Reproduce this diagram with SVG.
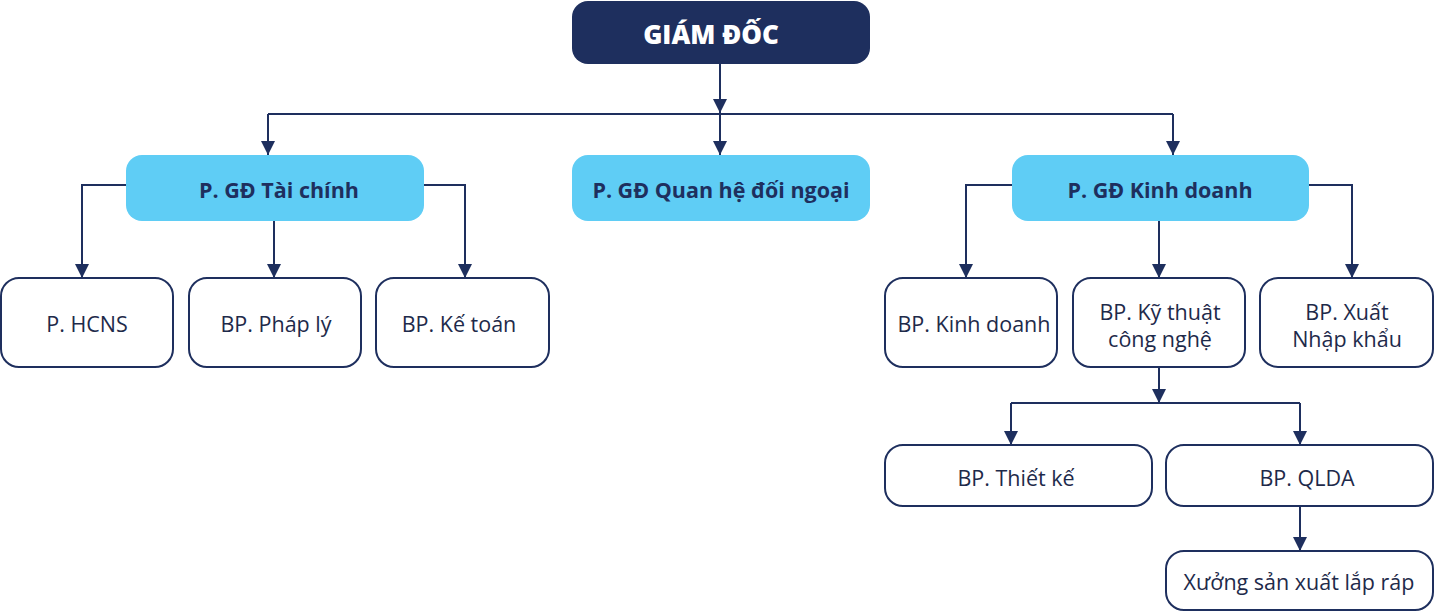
<svg xmlns="http://www.w3.org/2000/svg" width="1434" height="612" viewBox="0 0 1434 612">
<style>
.top{fill:#1e2f5e}
.mid{fill:#5fcdf5}
.box{fill:#fff;stroke:#1e2f5e;stroke-width:2}
.tt{font-family:"Open Sans",Lato,"DejaVu Sans",sans-serif;font-weight:800;font-size:26px;fill:#fff;text-anchor:middle;dominant-baseline:central}
.mt{font-family:"Open Sans",Lato,"DejaVu Sans",sans-serif;font-weight:700;font-size:21.5px;fill:#1e2f5e;text-anchor:middle;dominant-baseline:central}
.bt{font-family:"Open Sans",Lato,"DejaVu Sans",sans-serif;font-size:21.5px;fill:#1e2a4a;text-anchor:middle;dominant-baseline:central}
.c{fill:none;stroke:#1e2f5e;stroke-width:2}
</style>
<defs>
<marker id="arr" markerUnits="userSpaceOnUse" markerWidth="14" markerHeight="14" refX="14" refY="7" orient="auto">
<path d="M0,0 L14,7 L0,14 z" fill="#1e2f5e"/>
</marker>
</defs>
<rect width="1434" height="612" fill="#fff"/>
<g id="connectors">
<path class="c" d="M720,64 V113" marker-end="url(#arr)"/>
<path class="c" d="M268,114 H1173"/>
<path class="c" d="M268,114 V155" marker-end="url(#arr)"/>
<path class="c" d="M720,114 V155" marker-end="url(#arr)"/>
<path class="c" d="M1173,114 V155" marker-end="url(#arr)"/>
<path class="c" d="M126,185 H82 V278" marker-end="url(#arr)"/>
<path class="c" d="M274,221 V278" marker-end="url(#arr)"/>
<path class="c" d="M424,185 H465 V278" marker-end="url(#arr)"/>
<path class="c" d="M1012,185 H966 V278" marker-end="url(#arr)"/>
<path class="c" d="M1159,221 V278" marker-end="url(#arr)"/>
<path class="c" d="M1309,185 H1352 V278" marker-end="url(#arr)"/>
<path class="c" d="M1159,367 V403" marker-end="url(#arr)"/>
<path class="c" d="M1011,403 H1300"/>
<path class="c" d="M1011,403 V445" marker-end="url(#arr)"/>
<path class="c" d="M1300,403 V445" marker-end="url(#arr)"/>
<path class="c" d="M1300,506 V551" marker-end="url(#arr)"/>
</g>
<g id="giam-doc"><rect class="top" x="572" y="1" width="298" height="63" rx="16"/><text class="tt" x="711" y="34">GIÁM ĐỐC</text></g>
<g id="gd-tai-chinh"><rect class="mid" x="126" y="155" width="298" height="66" rx="16"/><text class="mt" x="279" y="189">P. GĐ Tài chính</text></g>
<g id="gd-quan-he"><rect class="mid" x="572" y="155" width="298" height="66" rx="16"/><text class="mt" x="721" y="189">P. GĐ Quan hệ đối ngoại</text></g>
<g id="gd-kinh-doanh"><rect class="mid" x="1012" y="155" width="297" height="66" rx="16"/><text class="mt" x="1160" y="189">P. GĐ Kinh doanh</text></g>
<g id="hcns"><rect class="box" x="1" y="278" width="172" height="89" rx="18"/><text class="bt" x="87" y="323">P. HCNS</text></g>
<g id="phap-ly"><rect class="box" x="189" y="278" width="172" height="89" rx="18"/><text class="bt" x="276" y="323">BP. Pháp lý</text></g>
<g id="ke-toan"><rect class="box" x="376" y="278" width="173" height="89" rx="18"/><text class="bt" x="459" y="323">BP. Kế toán</text></g>
<g id="bp-kinh-doanh"><rect class="box" x="885" y="278" width="172" height="89" rx="18"/><text class="bt" x="974" y="323">BP. Kinh doanh</text></g>
<g id="ky-thuat"><rect class="box" x="1073" y="278" width="172" height="89" rx="18"/><text class="bt" x="1160" y="311">BP. Kỹ thuật</text><text class="bt" x="1160" y="338">công nghệ</text></g>
<g id="xuat-nhap"><rect class="box" x="1260" y="278" width="173" height="89" rx="18"/><text class="bt" x="1347" y="311">BP. Xuất</text><text class="bt" x="1347" y="338">Nhập khẩu</text></g>
<g id="thiet-ke"><rect class="box" x="885" y="445" width="267" height="61" rx="18"/><text class="bt" x="1016" y="477">BP. Thiết kế</text></g>
<g id="qlda"><rect class="box" x="1166" y="445" width="267" height="61" rx="18"/><text class="bt" x="1307" y="477">BP. QLDA</text></g>
<g id="xuong"><rect class="box" x="1166" y="551" width="267" height="59" rx="18"/><text class="bt" x="1299" y="581">Xưởng sản xuất lắp ráp</text></g>
</svg>
